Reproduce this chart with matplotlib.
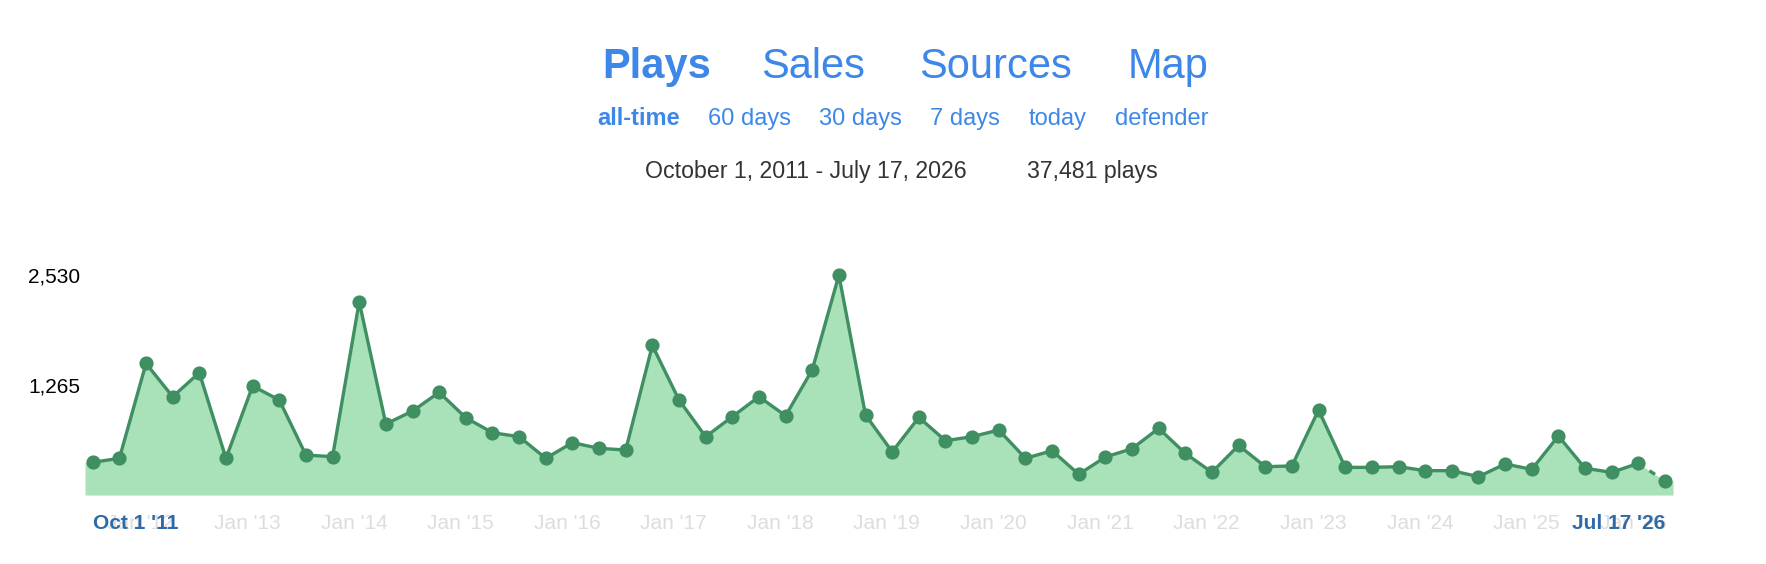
"""Plays over time, all-time view."""

import numpy as np
import matplotlib
matplotlib.use("Agg")
import matplotlib.pyplot as plt

plt.rcParams['font.family'] = ['Liberation Sans', 'DejaVu Sans']

# quarterly plays, Oct 2011 .. Jul 2026 (last one is partial)
plays = [376, 422, 1514, 1131, 1407, 422, 1254, 1093, 460, 441,
         2223, 817, 966, 1181, 889, 717, 671, 422, 602, 537,
         518, 1721, 1093, 671, 901, 1131, 912, 1441, 2530, 920,
         498, 893, 625, 671, 748, 422, 510, 238, 437, 533,
         767, 479, 261, 571, 326, 334, 978, 318, 318, 326,
         280, 280, 211, 357, 295, 679, 307, 261, 364, 161]

y_ticks = [1265, 2530]
y_tick_labels = ['1,265', '2,530']
jan_labels = ["Jan '12", "Jan '13", "Jan '14", "Jan '15", "Jan '16",
              "Jan '17", "Jan '18", "Jan '19", "Jan '20", "Jan '21",
              "Jan '22", "Jan '23", "Jan '24", "Jan '25", "Jan '26"]
start_label = "Oct 1 '11"
end_label = "Jul 17 '26"

tabs = ['Plays', 'Sales', 'Sources', 'Map']
tab_x = [656.7, 813.5, 995, 1168]
ranges = ['all-time', '60 days', '30 days', '7 days', 'today', 'defender']
range_x = [638.2, 749.8, 860.8, 965, 1057.5, 1162.2]
summary = ['October 1, 2011 - July 17, 2026', '37,481 plays']
summary_x = [806.2, 1092.8]

LINK = '#3d87e8'
LINE = '#3f8f62'
FILL = '#a9e1b9'

W, H = 1766, 564


def fig_text(fig, x_px, y_px, s, **kw):
    fig.text(x_px / W, 1 - y_px / H, s, ha='center', va='baseline', **kw)


fig = plt.figure(figsize=(W / 100, H / 100), dpi=100)

# header
for i, t in enumerate(tabs):
    fig_text(fig, tab_x[i], 78.3, t, fontsize=30, color=LINK,
             fontweight='bold' if i == 0 else 'normal')
for i, t in enumerate(ranges):
    fig_text(fig, range_x[i], 125, t, fontsize=17, color=LINK,
             fontweight='bold' if i == 0 else 'normal')
for i, t in enumerate(summary):
    fig_text(fig, summary_x[i], 178.3, t, fontsize=16.7, color='#333333')

# chart
ax = fig.add_axes([85 / W, 69 / H, 1588 / W, 239 / H])
x = np.arange(len(plays))
y = np.array(plays)
xmin, xmax = -0.29, len(plays) - 1 + 0.3

fx = np.r_[xmin, x, xmax]
fy = np.r_[y[0], y, y[-1]]
ax.fill_between(fx, 0, fy, color=FILL, linewidth=0)
ax.plot(x[:-1], y[:-1], color=LINE, linewidth=2.4, zorder=3)
ax.plot(x[-2:], y[-2:], color=LINE, linewidth=2.4, linestyle=(0, (2, 2)),
        zorder=3)
ax.plot(x, y, 'o', color=LINE, markersize=10.2, markeredgewidth=0, zorder=4)

ax.set_xlim(xmin, xmax)
ax.set_ylim(0, 2750)
for side in ax.spines.values():
    side.set_visible(False)

ax.set_yticks(y_ticks)
ax.set_yticklabels(y_tick_labels, fontsize=15, color='black')
jan_pos = np.arange(len(jan_labels)) * 4 + 2 - 0.2
ax.set_xticks(jan_pos)
ax.set_xticklabels(jan_labels, fontsize=15, color='#dddddd')
ax.tick_params(axis='y', length=0, pad=3.6)
ax.tick_params(axis='x', length=0, pad=13.7)

ax.annotate(start_label, xy=(x[0], 0), xycoords=('data', 'axes fraction'),
            xytext=(0, -13.7), textcoords='offset points', ha='left',
            va='top', fontsize=15, fontweight='bold', color='#2e6aa8')
ax.annotate(end_label, xy=(x[-1], 0), xycoords=('data', 'axes fraction'),
            xytext=(0, -13.7), textcoords='offset points', ha='right',
            va='top', fontsize=15, fontweight='bold', color='#2e6aa8')

fig.savefig('out.png', dpi=100)
